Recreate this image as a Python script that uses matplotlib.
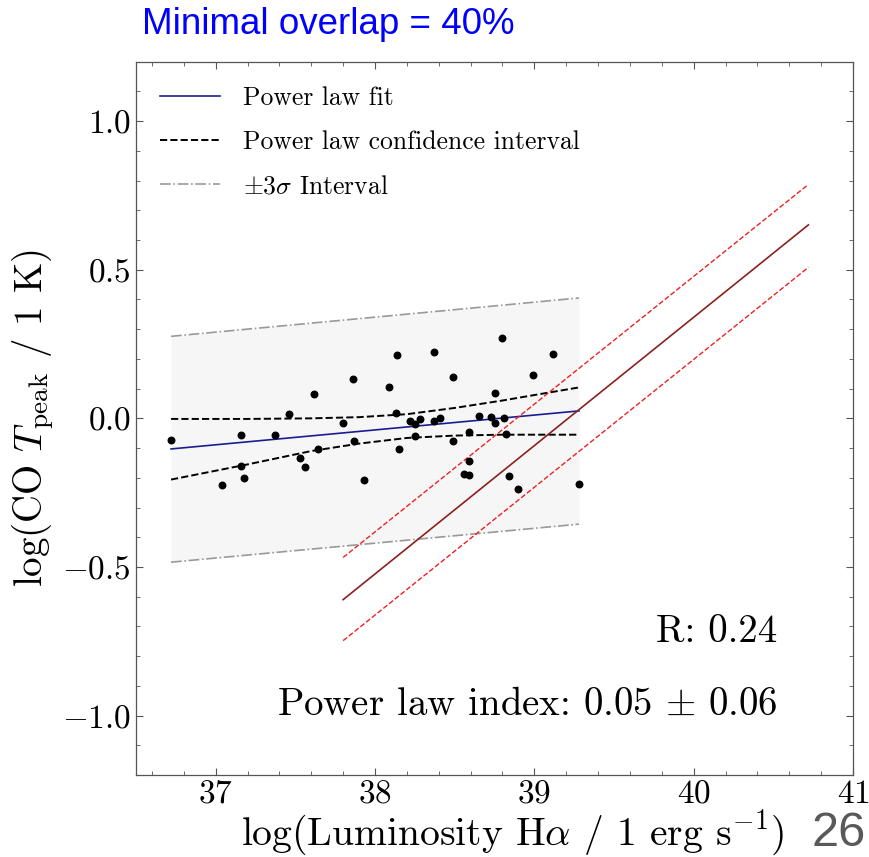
import matplotlib
matplotlib.use("Agg")
import matplotlib.pyplot as plt
from matplotlib.ticker import MultipleLocator

plt.rcParams['font.family'] = 'serif'
plt.rcParams['font.serif'] = ['cmr10']
plt.rcParams['mathtext.fontset'] = 'cm'
plt.rcParams['axes.formatter.use_mathtext'] = True
plt.rcParams['axes.unicode_minus'] = True

# Data points
lum_x = [36.72, 37.04, 37.16, 37.16, 37.18, 37.37, 37.46, 37.53, 37.56, 37.62,
         37.64, 37.80, 37.86, 37.87, 37.93, 38.09, 38.13, 38.14, 38.15, 38.22,
         38.25, 38.25, 38.28, 38.37, 38.37, 38.41, 38.49, 38.49, 38.56, 38.59,
         38.59, 38.59, 38.65, 38.73, 38.75, 38.75, 38.80, 38.81, 38.82, 38.84,
         38.90, 38.99, 39.12, 39.28]
co_y = [-0.072, -0.224, -0.055, -0.162, -0.200, -0.055, 0.015, -0.133, -0.165, 0.081,
        -0.103, -0.017, 0.133, -0.075, -0.207, 0.104, 0.019, 0.212, -0.103, -0.009,
        -0.058, -0.018, -0.003, 0.222, -0.010, 0.001, -0.075, 0.139, -0.186, -0.190,
        -0.145, -0.047, 0.008, 0.005, 0.084, -0.017, 0.272, 0.001, -0.052, -0.194,
        -0.238, 0.147, 0.216, -0.221]

# Power law fit
fit_x = [36.72, 39.28]
fit_y = [-0.103, 0.025]

# Confidence interval
ci_x = [36.72, 37.2, 37.6, 37.9, 38.2, 38.5, 38.8, 39.05, 39.28]
ci_upper = [-0.002, -0.002, 0.000, 0.004, 0.014, 0.035, 0.060, 0.083, 0.104]
ci_lower = [-0.206, -0.155, -0.110, -0.085, -0.066, -0.058, -0.055, -0.055, -0.055]

# +/- 3 sigma interval
sig_x = [36.72, 39.28]
sig_upper = [0.276, 0.405]
sig_lower = [-0.484, -0.356]

# Reference relation (red)
ref_x = [37.80, 40.72]
ref_y = [-0.610, 0.651]
ref_upper = [-0.468, 0.787]
ref_lower = [-0.748, 0.508]

fig = plt.figure(figsize=(8.69, 8.57), dpi=100)
ax = fig.add_axes([0.1565, 0.0957, 0.8251, 0.8323])

ax.fill_between(sig_x, sig_lower, sig_upper, color='#f6f6f6', lw=0, zorder=0)
ax.plot(fit_x, fit_y, color='#1c1c8f', lw=1.2, label='Power law fit', zorder=3)
ax.plot(ci_x, ci_upper, color='black', ls='--', lw=1.4,
        label='Power law confidence interval', zorder=3)
ax.plot(ci_x, ci_lower, color='black', ls='--', lw=1.4, zorder=3)
ax.plot(sig_x, sig_upper, color='#999999', ls='-.', lw=1.2,
        label=r'$\pm3\sigma$ Interval', zorder=2)
ax.plot(sig_x, sig_lower, color='#999999', ls='-.', lw=1.2, zorder=2)

ax.plot(ref_x, ref_y, color='#8b2020', lw=1.2, zorder=4)
ax.plot(ref_x, ref_upper, color='#ee2020', ls='--', lw=1.0, zorder=4)
ax.plot(ref_x, ref_lower, color='#ee2020', ls='--', lw=1.0, zorder=4)

ax.scatter(lum_x, co_y, s=22, color='black', zorder=5)

ax.set_xlim(36.5, 41)
ax.set_ylim(-1.2, 1.2)
ax.xaxis.set_major_locator(MultipleLocator(1))
ax.xaxis.set_minor_locator(MultipleLocator(0.2))
ax.yaxis.set_major_locator(MultipleLocator(0.5))
ax.yaxis.set_minor_locator(MultipleLocator(0.1))
ax.tick_params(which='both', direction='in', top=True, right=True,
               color='#555555', labelsize=24)
ax.tick_params(which='major', length=5, width=0.8)
ax.tick_params(which='minor', length=3, width=0.6)
for sp in ax.spines.values():
    sp.set_color('#555555')
    sp.set_linewidth(0.9)

ax.set_xlabel(r'log(Luminosity H$\alpha$ / 1 erg s$^{-1}$)', fontsize=28.5, labelpad=0)
ax.set_ylabel(r'log(CO $T_{\rm peak}$ / 1 K)', fontsize=28, labelpad=4)
ax.xaxis.label.set_x(0.526)

ax.text(0.895, 0.2006, 'R: 0.24', transform=ax.transAxes, ha='right',
        va='center', fontsize=28)
ax.text(0.895, 0.098, r'Power law index: 0.05 $\pm$ 0.06', transform=ax.transAxes,
        ha='right', va='center', fontsize=28)

leg = ax.legend(loc='upper left', frameon=False, fontsize=18.5,
                handlelength=2.3, handletextpad=0.9, borderaxespad=0.55,
                labelspacing=0.8)

fig.text(0.996, 0.0015, '26', color='#595959', fontsize=35,
         family='Liberation Sans', ha='right', va='bottom')
fig.text(0.163, 0.971, 'Minimal overlap = 40%', color='#0000ff',
         fontsize=26.5, family='Liberation Sans', ha='left', va='center')

fig.savefig('out.png', dpi=100)
